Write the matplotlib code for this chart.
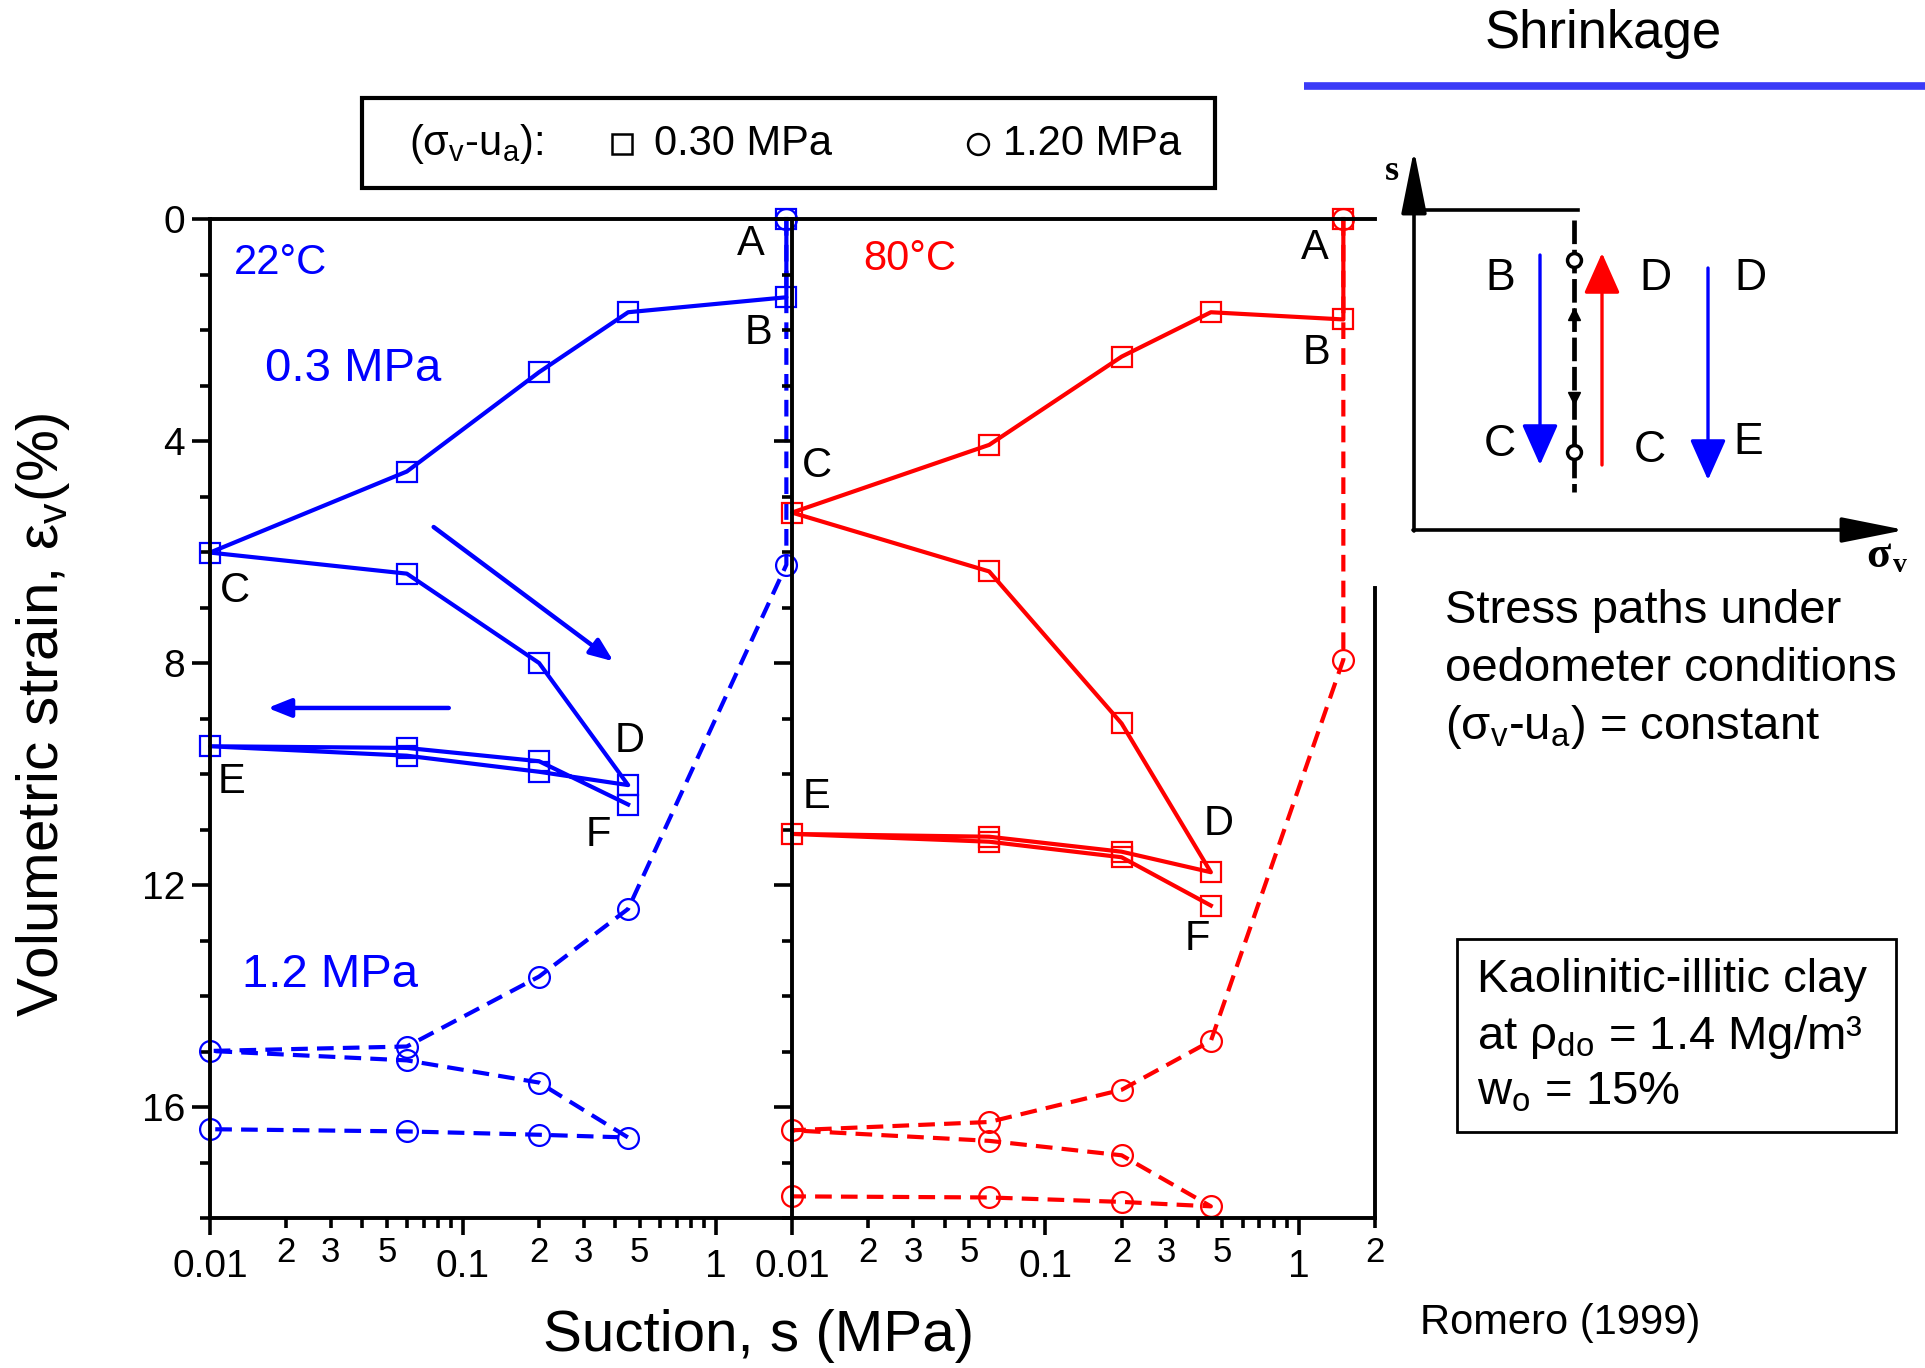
import matplotlib
matplotlib.use('Agg')
import matplotlib.pyplot as plt
from matplotlib.patches import Rectangle

plt.rcParams['font.family'] = ['Liberation Sans', 'DejaVu Sans']
plt.rcParams['mathtext.fontset'] = 'custom'
plt.rcParams['mathtext.rm'] = 'Liberation Sans'
plt.rcParams['mathtext.it'] = 'Liberation Sans:italic'
plt.rcParams['mathtext.default'] = 'regular'

BLUE = '#0000ff'
RED = '#ff0000'

# ---- data: suction (MPa) and volumetric strain (%) along each stress path ----
# 22 C, (sv-ua) = 0.30 MPa : A-B-C-D-E-F
s_22_030 = [1.9, 1.9, 0.45, 0.2, 0.06, 0.01, 0.06, 0.2, 0.45, 0.2, 0.06, 0.01, 0.06, 0.2, 0.45]
ev_22_030 = [0.0, 1.41, 1.68, 2.76, 4.55, 6.01, 6.39, 8.0, 10.2, 9.96, 9.67, 9.5, 9.53, 9.77, 10.55]

# 22 C, (sv-ua) = 1.20 MPa
s_22_120 = [1.9, 1.9, 0.45, 0.2, 0.06, 0.01, 0.06, 0.2, 0.45, 0.2, 0.06, 0.01]
ev_22_120 = [0.0, 6.23, 12.43, 13.65, 14.91, 14.99, 15.16, 15.56, 16.55, 16.5, 16.44, 16.4]

# 80 C, (sv-ua) = 0.30 MPa
s_80_030 = [1.5, 1.5, 0.45, 0.2, 0.06, 0.01, 0.06, 0.2, 0.45, 0.2, 0.06, 0.01, 0.06, 0.2, 0.45]
ev_80_030 = [0.0, 1.81, 1.68, 2.48, 4.07, 5.29, 6.35, 9.09, 11.77, 11.4, 11.13, 11.08, 11.22, 11.5, 12.37]

# 80 C, (sv-ua) = 1.20 MPa
s_80_120 = [1.5, 1.5, 0.45, 0.2, 0.06, 0.01, 0.06, 0.2, 0.45, 0.2, 0.06, 0.01]
ev_80_120 = [0.0, 7.94, 14.81, 15.69, 16.27, 16.42, 16.61, 16.87, 17.79, 17.71, 17.63, 17.61]

x_major = [0.01, 0.1, 1]
x_major_labels = ['0.01', '0.1', '1']
x_minor = [0.02, 0.03, 0.04, 0.05, 0.06, 0.07, 0.08, 0.09,
           0.2, 0.3, 0.4, 0.5, 0.6, 0.7, 0.8, 0.9]
x_minor_labels = ['2', '3', '', '5', '', '', '', ''] * 2
y_major = [0, 4, 8, 12, 16]
y_minor = [1, 2, 3, 5, 6, 7, 9, 10, 11, 13, 14, 15, 17, 18]

# letters marking the stress-path points: (label, suction, strain)
pts_22 = [('A', 1.38, 0.45), ('B', 1.48, 2.05), ('C', 0.0126, 6.7),
          ('D', 0.457, 9.4), ('E', 0.0122, 10.15), ('F', 0.342, 11.1)]
pts_80 = [('A', 1.16, 0.53), ('B', 1.18, 2.42), ('C', 0.0125, 4.45),
          ('D', 0.484, 10.9), ('E', 0.0125, 10.42), ('F', 0.398, 12.97)]

W, H = 1925, 1368
fig = plt.figure(figsize=(W / 100, H / 100), dpi=100)

bottom = 1 - 1218 / H
height = (1218 - 219) / H
ax1 = fig.add_axes([210 / W, bottom, 582 / W, height])
ax2 = fig.add_axes([792 / W, bottom, 583 / W, height])

line_kw = dict(lw=3.0, mfc='none', mew=1.6, clip_on=False)
dash = (0, (4.0, 2.2))

ax1.plot(s_22_120, ev_22_120, color=BLUE, ls=dash, marker='o', ms=15, **line_kw)
ax1.plot(s_22_030, ev_22_030, color=BLUE, marker='s', ms=15, **line_kw)
ax2.plot(s_80_120, ev_80_120, color=RED, ls=dash, marker='o', ms=15, **line_kw)
ax2.plot(s_80_030, ev_80_030, color=RED, marker='s', ms=15, **line_kw)

for ax, extra in ((ax1, False), (ax2, True)):
    ax.set_xscale('log')
    ax.set_xlim(0.01, 2)
    ax.set_ylim(18, 0)
    ax.set_xticks(x_major, x_major_labels)
    if extra:
        ax.set_xticks(x_minor + [2], x_minor_labels + ['2'], minor=True)
    else:
        ax.set_xticks(x_minor, x_minor_labels, minor=True)
    ax.set_yticks(y_major)
    ax.set_yticks(y_minor, minor=True)
    ax.tick_params(axis='x', which='major', direction='out', length=12, width=2.6,
                   pad=10, labelsize=28)
    ax.tick_params(axis='x', which='minor', direction='out', length=7, width=2.6,
                   pad=6, labelsize=25)
    ax.tick_params(axis='y', which='major', direction='out', length=13, width=2.6,
                   pad=5, labelsize=28)
    ax.tick_params(axis='y', which='minor', direction='out', length=7, width=2.6)
    for sp in ax.spines.values():
        sp.set_linewidth(2.8)
    ax.patch.set_alpha(0)

ax1.spines['right'].set_visible(False)
ax2.tick_params(axis='y', which='both', labelleft=False)
ax2.spines['right'].set_bounds(6.64, 18)

# annotations inside the panels
ax1.text(0.0124, 0.8, '22°C', color=BLUE, fontsize=30, va='center', ha='left')
ax1.text(0.0165, 2.7, '0.3 MPa', color=BLUE, fontsize=34, va='center', ha='left')
ax1.text(0.0134, 13.62, '1.2 MPa', color=BLUE, fontsize=34, va='center', ha='left')
ax2.text(0.0191, 0.72, '80°C', color=RED, fontsize=30, va='center', ha='left')
for ax, pts in ((ax1, pts_22), (ax2, pts_80)):
    for lab, xs, ys in pts:
        ax.text(xs, ys, lab, fontsize=30, ha='center', va='center')

arrow_kw = dict(arrowstyle='-|>,head_length=0.5,head_width=0.2', color=BLUE,
                lw=3.2, mutation_scale=28, shrinkA=0, shrinkB=0)
ax1.annotate('', xy=(0.394, 7.97), xytext=(0.0766, 5.55), arrowprops=arrow_kw)
ax1.annotate('', xy=(0.0169, 8.81), xytext=(0.0879, 8.81), arrowprops=arrow_kw)

fig.text(759 / W, 1 - 1336 / H, 'Suction, s (MPa)', fontsize=42, ha='center', va='center')
fig.text(43 / W, 1 - 715 / H, 'Volumetric strain, ε$_\\mathregular{v}$(%)', fontsize=42,
         rotation=90, ha='center', va='center')

# ---- overlay in pixel coordinates for legend box and the schematic ----
ov = fig.add_axes([0, 0, 1, 1])
ov.set_xlim(0, W)
ov.set_ylim(H, 0)
ov.axis('off')
ov.patch.set_visible(False)

ov.add_patch(Rectangle((362, 98), 853, 90, fill=False, lw=3, ec='k'))
ov.text(409, 144, '(σ$_\\mathregular{v}$-u$_\\mathregular{a}$):', fontsize=30, va='center')
ov.plot([622], [144], marker='s', ms=15, mfc='none', mec='k', mew=1.8)
ov.text(654, 144, '0.30 MPa', fontsize=30, va='center')
ov.plot([978], [144], marker='o', ms=15, mfc='none', mec='k', mew=1.8)
ov.text(1003, 144, '1.20 MPa', fontsize=30, va='center')

# schematic of stress paths
ov.text(1603, 34, 'Shrinkage', fontsize=38, ha='center', va='center')
ov.plot([1304, 1925], [86, 86], color='#3b3bf7', lw=5.5, solid_capstyle='butt')

axis_kw = dict(arrowstyle='-|>,head_length=1.4,head_width=0.28', color='k', lw=2.6,
               mutation_scale=28, shrinkA=0, shrinkB=0)
ov.annotate('', xy=(1414, 150), xytext=(1414, 531), arrowprops=axis_kw)
ov.annotate('', xy=(1905, 530), xytext=(1413, 530), arrowprops=axis_kw)
ov.text(1392, 172, 's', fontsize=26, fontweight='bold', family='Liberation Serif',
        ha='center', va='center')
ov.text(1878, 556, 'σ', fontsize=32, fontweight='bold', family='Liberation Serif',
        ha='center', va='center')
ov.text(1900, 566, 'v', fontsize=20, fontweight='bold', family='Liberation Serif',
        ha='center', va='center')
ov.plot([1424, 1578], [210, 210], color='k', lw=2.6)
ov.plot([1574, 1574], [220, 492], color='k', lw=3.4, ls=(0, (5, 1.2)))
ov.plot([1574, 1574], [260, 452], ls='none', marker='o', ms=10, mfc='white', mec='k', mew=2.5)
ov.plot([1574], [314], ls='none', marker='^', ms=9, color='k')
ov.plot([1574], [398], ls='none', marker='v', ms=9, color='k')

sch_kw = dict(arrowstyle='-|>,head_length=0.9,head_width=0.4', lw=2.4,
              mutation_scale=28, shrinkA=0, shrinkB=0)
ov.annotate('', xy=(1540, 465), xytext=(1540, 255), arrowprops=dict(color=BLUE, **sch_kw))
ov.annotate('', xy=(1602, 253), xytext=(1602, 465), arrowprops=dict(color=RED, **sch_kw))
ov.annotate('', xy=(1708, 480), xytext=(1708, 268), arrowprops=dict(color=BLUE, **sch_kw))
for lab, xs, ys in [('B', 1500, 278), ('C', 1500, 444), ('D', 1655, 278),
                    ('C', 1650, 450), ('D', 1750, 278), ('E', 1748, 442)]:
    ov.text(xs, ys, lab, fontsize=32, ha='center', va='center')

ov.text(1445, 611, 'Stress paths under', fontsize=34, va='center')
ov.text(1445, 669, 'oedometer conditions', fontsize=34, va='center')
ov.text(1445, 727, '(σ$_\\mathregular{v}$-u$_\\mathregular{a}$) = constant', fontsize=34,
        va='center')

ov.add_patch(Rectangle((1457, 939), 439, 193, fill=False, lw=2, ec='k'))
ov.text(1477, 980, 'Kaolinitic-illitic clay', fontsize=34, va='center')
ov.text(1477, 1037, 'at ρ$_\\mathregular{do}$ = 1.4 Mg/m³', fontsize=34, va='center')
ov.text(1477, 1093, 'w$_\\mathregular{o}$ = 15%', fontsize=34, va='center')
ov.text(1420, 1323, 'Romero (1999)', fontsize=30, va='center')

fig.savefig('out.png', dpi=100, facecolor='white')
